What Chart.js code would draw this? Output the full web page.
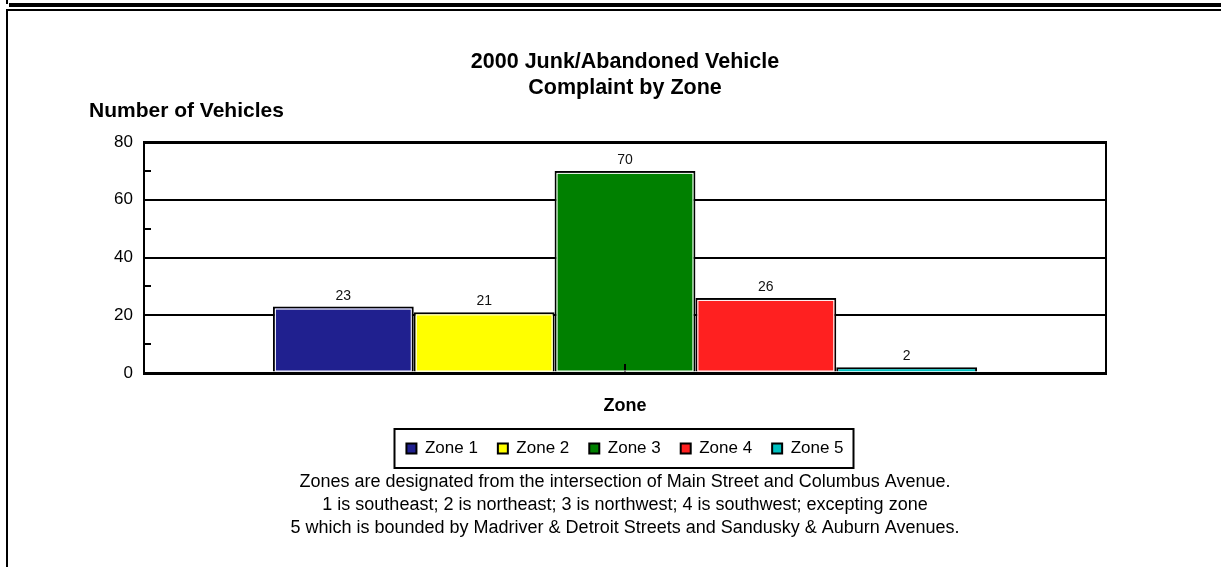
<!DOCTYPE html>
<html>
<head>
<meta charset="utf-8">
<script src="https://cdn.jsdelivr.net/npm/chart.js@4.4.0/dist/chart.umd.min.js"></script>
<style>
  body { margin: 0; width: 1221px; height: 567px; position: relative; overflow: hidden; background: #fff; }
  .ln { position: absolute; background: #000; }
  #wrap { position: absolute; left: 31px; top: 0; width: 1188px; height: 567px; }
</style>
</head>
<body>
<div class="ln" style="left:6px;top:0;width:2px;height:4px"></div>
<div class="ln" style="left:9px;top:3px;right:0;height:4px"></div>
<div class="ln" style="left:6px;top:9px;right:0;height:2px"></div>
<div class="ln" style="left:6px;top:9px;width:2px;bottom:0"></div>
<div id="wrap"><canvas id="c"></canvas></div>
<script>
const FONT = "'Liberation Sans', Arial, sans-serif";

const categories = [''];
const zones = ['Zone 1', 'Zone 2', 'Zone 3', 'Zone 4', 'Zone 5'];
const vehicles = [23, 21, 70, 26, 2];
const zoneColors = ['#20208f', '#ffff00', '#008000', '#ff2020', '#00c0c0'];
const yMinorTicks = [10, 30, 50, 70];

const titleLines = ['2000 Junk/Abandoned Vehicle', 'Complaint by Zone'];
const yTitle = 'Number of Vehicles';
const xTitle = 'Zone';
const notes = [
    'Zones are designated from the intersection of Main Street and Columbus Avenue.',
    '1 is southeast; 2 is northeast; 3 is northwest; 4 is southwest; excepting zone',
    '5 which is bounded by Madriver & Detroit Streets and Sandusky & Auburn Avenues.'
];

// extra marks: minor ticks, bar highlights, value labels, legend frame, y title
const extras = {
    id: 'extras',
    afterDatasetsDraw(chart) {
        const ctx = chart.ctx;
        const area = chart.chartArea;
        const y = chart.scales.y;
        const x = chart.scales.x;

        ctx.save();
        ctx.strokeStyle = '#000';
        ctx.lineWidth = 2;
        yMinorTicks.forEach(v => {
            const py = Math.round(y.getPixelForValue(v));
            ctx.beginPath();
            ctx.moveTo(area.left, py);
            ctx.lineTo(area.left + 7, py);
            ctx.stroke();
        });
        const cx = Math.round(x.getPixelForValue(0));
        ctx.beginPath();
        ctx.moveTo(cx, area.bottom);
        ctx.lineTo(cx, area.bottom - 9);
        ctx.stroke();

        chart.data.datasets.forEach((ds, i) => {
            chart.getDatasetMeta(i).data.forEach(bar => {
                const left = bar.x - bar.width / 2;
                const top = Math.min(bar.y, bar.base);
                const h = Math.abs(bar.base - bar.y);
                ctx.strokeStyle = '#fff';
                ctx.lineWidth = 1;
                if (h > 5) ctx.strokeRect(left + 2.5, top + 2.5, bar.width - 5, h - 3);

                ctx.fillStyle = '#111';
                ctx.font = '14px ' + FONT;
                ctx.textAlign = 'center';
                ctx.textBaseline = 'alphabetic';
                ctx.fillText(ds.data[0], bar.x, top - 7);
            });
        });
        ctx.restore();
    },
    afterDraw(chart) {
        const ctx = chart.ctx;
        ctx.save();
        ctx.fillStyle = '#000';
        ctx.font = 'bold 21px ' + FONT;
        ctx.textAlign = 'left';
        ctx.textBaseline = 'middle';
        ctx.fillText(yTitle, 58, 111);

        const boxes = chart.legend.legendHitBoxes;
        if (boxes && boxes.length) {
            const l = Math.min(...boxes.map(b => b.left)) - 12;
            const r = Math.max(...boxes.map(b => b.left + b.width)) + 10;
            const cy = boxes[0].top + boxes[0].height / 2;
            ctx.strokeStyle = '#000';
            ctx.lineWidth = 2;
            ctx.strokeRect(Math.round(l) + 0.5, Math.round(cy - 19.5), Math.round(r - l), 39);
        }
        ctx.restore();
    }
};

const chart = new Chart(document.getElementById('c'), {
    type: 'bar',
    data: {
        labels: categories,
        datasets: zones.map((z, i) => ({
            label: z,
            data: [vehicles[i]],
            backgroundColor: zoneColors[i],
            borderColor: '#000',
            borderWidth: 2,
            categoryPercentage: 0.732,
            barPercentage: 1.0
        }))
    },
    options: {
        responsive: true,
        maintainAspectRatio: false,
        animation: false,
        layout: { padding: { left: 0, right: 0, top: 0, bottom: 27.5 } },
        plugins: {
            title: {
                display: true,
                text: titleLines,
                color: '#000',
                font: { family: FONT, size: 21.5, weight: 'bold', lineHeight: 26 / 21.5 },
                padding: { top: 49, bottom: 41 }
            },
            subtitle: {
                display: true,
                position: 'bottom',
                text: notes,
                color: '#000',
                font: { family: FONT, size: 18, lineHeight: 23 / 18 },
                padding: { top: 9.5, bottom: 0 }
            },
            legend: {
                position: 'bottom',
                maxHeight: 41,
                labels: {
                    color: '#000',
                    font: { family: FONT, size: 17 },
                    boxWidth: 10,
                    boxHeight: 10,
                    padding: 20
                }
            },
            tooltip: { enabled: false }
        },
        scales: {
            x: {
                ticks: { display: false },
                grid: { display: false, drawTicks: false },
                border: { display: true, color: '#000', width: 3 },
                title: {
                    display: true,
                    text: xTitle,
                    color: '#000',
                    font: { family: FONT, size: 18, weight: 'bold', lineHeight: 1.2 },
                    padding: { top: 22, bottom: 3.4 }
                }
            },
            y: {
                min: 0,
                max: 80,
                ticks: {
                    stepSize: 20,
                    color: '#000',
                    padding: 11,
                    font: { family: FONT, size: 17 }
                },
                grid: {
                    color: '#000',
                    drawTicks: false,
                    lineWidth: c => (c.tick.value === 80 || c.tick.value === 0) ? 3 : 2
                },
                border: { display: true, color: '#000', width: 2 },
                afterFit(scale) { scale.width = 113; }
            },
            yRight: {
                position: 'right',
                display: true,
                ticks: { display: false },
                grid: { display: false, drawTicks: false },
                border: { display: true, color: '#000', width: 2 },
                afterFit(scale) { scale.width = 113; }
            }
        }
    },
    plugins: [extras]
});
</script>
</body>
</html>
